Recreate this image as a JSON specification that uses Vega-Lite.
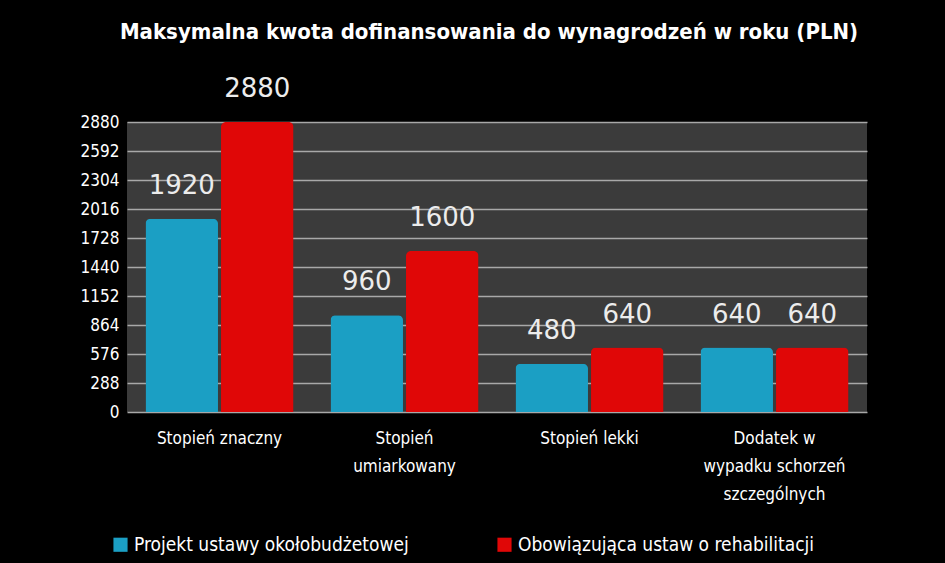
{
  "$schema": "https://vega.github.io/schema/vega-lite/v6.json",
  "autosize": {"type": "none"},
  "width": 740,
  "height": 290,
  "padding": {"left": 127, "top": 122, "right": 78, "bottom": 151},
  "background": "#000000",
  "title": {
    "text": "Maksymalna kwota dofinansowania do wynagrodzeń w roku (PLN)",
    "font": "DejaVu Sans Condensed",
    "fontSize": 22,
    "fontWeight": "bold",
    "color": "#ffffff",
    "anchor": "middle",
    "dx": -8,
    "offset": 32
  },
  "data": {
    "values": [
      {"kategoria": "Stopień znaczny", "seria": "Projekt ustawy okołobudżetowej", "kwota": 1920},
      {"kategoria": "Stopień znaczny", "seria": "Obowiązująca ustaw o rehabilitacji", "kwota": 2880},
      {"kategoria": "Stopień|umiarkowany", "seria": "Projekt ustawy okołobudżetowej", "kwota": 960},
      {"kategoria": "Stopień|umiarkowany", "seria": "Obowiązująca ustaw o rehabilitacji", "kwota": 1600},
      {"kategoria": "Stopień lekki", "seria": "Projekt ustawy okołobudżetowej", "kwota": 480},
      {"kategoria": "Stopień lekki", "seria": "Obowiązująca ustaw o rehabilitacji", "kwota": 640},
      {"kategoria": "Dodatek w|wypadku schorzeń|szczególnych", "seria": "Projekt ustawy okołobudżetowej", "kwota": 640},
      {"kategoria": "Dodatek w|wypadku schorzeń|szczególnych", "seria": "Obowiązująca ustaw o rehabilitacji", "kwota": 640}
    ]
  },
  "encoding": {
    "x": {
      "field": "kategoria",
      "type": "nominal",
      "sort": null,
      "title": null,
      "scale": {"paddingInner": 0.2, "paddingOuter": 0.1},
      "axis": {
        "labelExpr": "split(datum.label, '|')",
        "labelAngle": 0,
        "labelFont": "DejaVu Sans Condensed",
        "labelFontSize": 17,
        "labelColor": "#ffffff",
        "labelLineHeight": 28,
        "labelPadding": 18,
        "labelBaseline": "top",
        "ticks": false,
        "domain": false
      }
    },
    "xOffset": {"field": "seria", "type": "nominal", "sort": null, "scale": {"paddingInner": 0.04}},
    "y": {
      "field": "kwota",
      "type": "quantitative",
      "title": null,
      "scale": {"domain": [0, 2880], "nice": false},
      "axis": {
        "values": [0, 288, 576, 864, 1152, 1440, 1728, 2016, 2304, 2592, 2880],
        "format": "d",
        "labelFont": "DejaVu Sans Condensed",
        "labelFontSize": 17,
        "labelColor": "#ffffff",
        "labelPadding": 8,
        "ticks": false,
        "domain": false,
        "gridColor": "#a8a8a8",
        "gridWidth": 1.5
      }
    }
  },
  "layer": [
    {
      "mark": {"type": "bar", "cornerRadiusEnd": 5},
      "encoding": {
        "color": {
          "field": "seria",
          "type": "nominal",
          "sort": null,
          "scale": {"range": ["#1b9fc4", "#e00707"]},
          "legend": {
            "title": null,
            "orient": "none",
            "direction": "horizontal",
            "legendX": -16,
            "legendY": 413,
            "columns": 2,
            "columnPadding": 86,
            "symbolType": "square",
            "symbolSize": 200,
            "symbolStrokeWidth": 0,
            "labelFont": "DejaVu Sans Condensed",
            "labelFontSize": 19,
            "labelColor": "#ffffff",
            "labelLimit": 400
          }
        }
      }
    },
    {
      "mark": {"type": "text", "baseline": "alphabetic", "dy": -25, "font": "DejaVu Sans", "fontSize": 26, "color": "#ececec"},
      "encoding": {
        "text": {"field": "kwota", "type": "quantitative"}
      }
    }
  ],
  "config": {
    "view": {"fill": "#3b3b3b", "stroke": null}
  }
}
